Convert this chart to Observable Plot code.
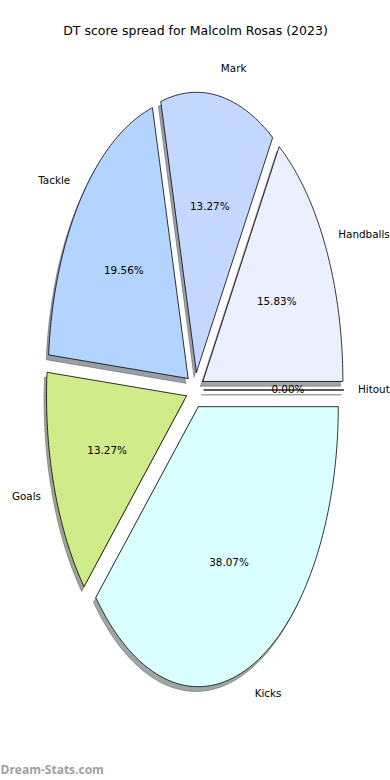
<!DOCTYPE html>
<html><head><meta charset="utf-8">
<script src="https://cdn.jsdelivr.net/npm/d3@7"></script>
<script src="https://cdn.jsdelivr.net/npm/@observablehq/plot@0.6"></script>
<style>body{margin:0;background:#fff}#chart svg{display:block}</style>
</head><body><div id="chart"></div>
<script>
// ---- data ----
const title = "DT score spread for Malcolm Rosas (2023)";
const categories = ["Handballs", "Mark", "Tackle", "Goals", "Kicks", "Hitout"];
const shares = [15.83, 13.27, 19.56, 13.27, 38.07, 0.00];
const palette = ["#eaf0ff", "#c4d8ff", "#b3d4ff", "#cfeb8a", "#daffff", "#d4d4d4"];
const watermark = "Dream-Stats.com";

// ---- layout ----
const W = 390, H = 780;
const cxPx = 194.5, cyPx = 389.5, sx = 140, sy = 280;
const R = 1, explode = 0.064, shadowOff = 0.0172, labelDist = 1.1, pctDist = 0.6;
const font = "DejaVu Sans, sans-serif";

const total = d3.sum(shares);
let cum = 0;
const slices = categories.map((name, i) => {
  const t1 = cum / total * 2 * Math.PI;
  cum += shares[i];
  const t2 = cum / total * 2 * Math.PI;
  const mid = (t1 + t2) / 2;
  return {name, value: shares[i], color: palette[i], t1, t2, mid,
          ox: explode * Math.cos(mid), oy: explode * Math.sin(mid)};
});

function wedgeRows(s, dx, dy) {
  const rows = [];
  const hx = s.ox + dx, hy = s.oy + dy;
  rows.push({name: s.name, x: hx, y: hy});
  const n = Math.max(2, Math.ceil((s.t2 - s.t1) / 0.01));
  for (let k = 0; k <= n; k++) {
    const t = s.t1 + (s.t2 - s.t1) * k / n;
    rows.push({name: s.name, x: hx + R * Math.cos(t), y: hy + R * Math.sin(t)});
  }
  rows.push({name: s.name, x: hx, y: hy});
  return rows;
}

const wedges = slices.flatMap(s => wedgeRows(s, 0, 0));
const shadowMarks = slices.map(s => {
  const c = d3.rgb(s.color);
  const sc = d3.rgb(c.r * 0.3, c.g * 0.3, c.b * 0.3).formatHex();
  return Plot.line(wedgeRows(s, -shadowOff, -shadowOff), {
    x: "x", y: "y", fill: sc, stroke: sc, fillOpacity: 0.5, strokeOpacity: 0.5, strokeWidth: 0.8
  });
});

const labelRows = slices.map(s => ({
  name: s.name,
  x: s.ox + labelDist * R * Math.cos(s.mid),
  y: s.oy + labelDist * R * Math.sin(s.mid)
}));
const pctRows = slices.map(s => ({
  text: s.value.toFixed(2) + "%",
  x: s.ox + pctDist * R * Math.cos(s.mid),
  y: s.oy + pctDist * R * Math.sin(s.mid)
}));

const chart = Plot.plot({
  width: W, height: H, margin: 0,
  style: {background: "#fff", fontFamily: font},
  x: {domain: [-cxPx / sx, (W - cxPx) / sx], axis: null},
  y: {domain: [-(H - cyPx) / sy, cyPx / sy], axis: null},
  color: {domain: categories, range: palette},
  marks: [
    ...shadowMarks,
    Plot.line(wedges, {x: "x", y: "y", z: "name", fill: "name", stroke: "black", strokeWidth: 0.8}),
    Plot.text(pctRows, {x: "x", y: "y", text: "text", fontSize: 10.4, fill: "black", textAnchor: "middle", lineAnchor: "middle"}),
    Plot.text(labelRows.filter(d => d.x > 0), {x: "x", y: "y", text: "name", fontSize: 10.4, fill: "black", textAnchor: "start", lineAnchor: "middle"}),
    Plot.text(labelRows.filter(d => d.x <= 0), {x: "x", y: "y", text: "name", fontSize: 10.4, fill: "black", textAnchor: "end", lineAnchor: "middle"}),
    Plot.text([title], {frameAnchor: "top", dy: 30, fontSize: 12.5, fill: "black", lineAnchor: "middle"}),
    Plot.text([watermark], {frameAnchor: "bottom-left", dx: 0, dy: -10, fontSize: 12, fontWeight: "bold", fill: "#a0a0a0", textAnchor: "start", lineAnchor: "middle", fontFamily: "Open Sans, sans-serif"})
  ]
});
document.getElementById("chart").appendChild(chart);
</script>
</body></html>
